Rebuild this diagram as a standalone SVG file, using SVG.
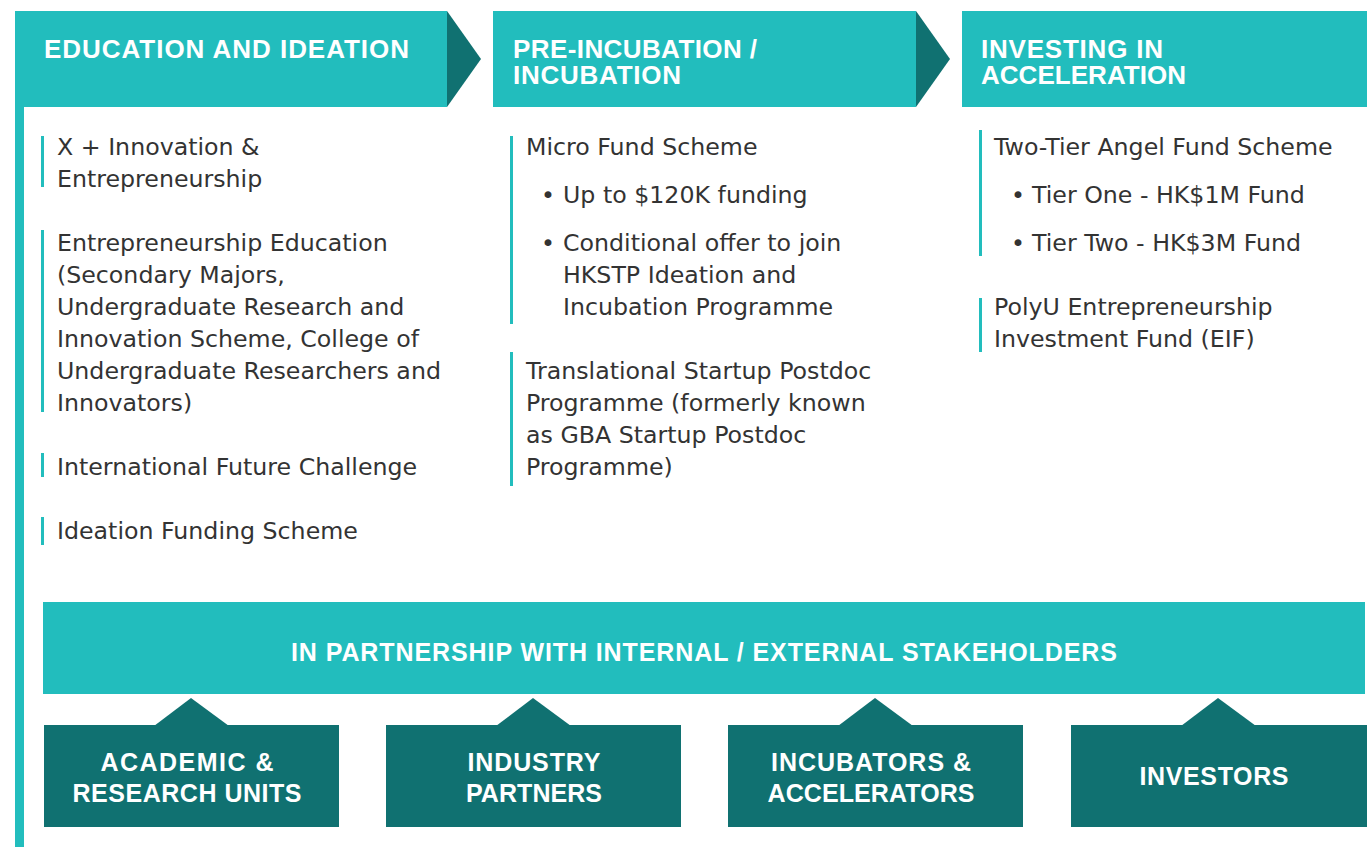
<svg xmlns="http://www.w3.org/2000/svg" width="1367" height="847" viewBox="0 0 1367 847">
  <style>
    .teal { fill: #22bdbd; }
    .dark { fill: #107171; }
    .hd { font-family: "Liberation Sans", Arial, sans-serif; font-weight: bold; font-size: 26px; fill: #ffffff; }
    .bx { font-family: "Liberation Sans", Arial, sans-serif; font-weight: bold; font-size: 25px; fill: #ffffff; text-anchor: middle; }
    .tx { font-family: "DejaVu Sans", "Liberation Sans", sans-serif; font-size: 23.7px; fill: #333333; }
    .bar { fill: #22bdbd; }
  </style>
  <rect width="1367" height="847" fill="#ffffff"/>

  <!-- left timeline strip -->
  <rect class="teal" x="15" y="11" width="9" height="836"/>

  <!-- stage 1 -->
  <g id="stage-education">
    <rect class="teal" x="15" y="11" width="432" height="96"/>
    <polygon class="dark" points="447,11 481,59 447,107"/>
    <text class="hd" x="44" y="58" textLength="365">EDUCATION AND IDEATION</text>
    <rect class="bar" x="41" y="136" width="3" height="51"/>
    <text class="tx" x="57" y="155">X + Innovation &amp;</text>
    <text class="tx" x="57" y="187">Entrepreneurship</text>
    <rect class="bar" x="41" y="230" width="3" height="182"/>
    <text class="tx" x="57" y="251">Entrepreneurship Education</text>
    <text class="tx" x="57" y="283">(Secondary Majors,</text>
    <text class="tx" x="57" y="315">Undergraduate Research and</text>
    <text class="tx" x="57" y="347">Innovation Scheme, College of</text>
    <text class="tx" x="57" y="379">Undergraduate Researchers and</text>
    <text class="tx" x="57" y="411">Innovators)</text>
    <rect class="bar" x="41" y="453" width="3" height="24"/>
    <text class="tx" x="57" y="475">International Future Challenge</text>
    <rect class="bar" x="41" y="517" width="3" height="28"/>
    <text class="tx" x="57" y="539">Ideation Funding Scheme</text>
  </g>

  <!-- stage 2 -->
  <g id="stage-incubation">
    <rect class="teal" x="493" y="11" width="423" height="96"/>
    <polygon class="dark" points="916,11 950,59 916,107"/>
    <text class="hd" x="513" y="58" textLength="244">PRE-INCUBATION /</text>
    <text class="hd" x="513" y="84" textLength="168">INCUBATION</text>
    <rect class="bar" x="510" y="136" width="3" height="188"/>
    <text class="tx" x="526" y="155">Micro Fund Scheme</text>
    <text class="tx" x="541" y="203">•</text>
    <text class="tx" x="563" y="203">Up to $120K funding</text>
    <text class="tx" x="541" y="251">•</text>
    <text class="tx" x="563" y="251">Conditional offer to join</text>
    <text class="tx" x="563" y="283">HKSTP Ideation and</text>
    <text class="tx" x="563" y="315">Incubation Programme</text>
    <rect class="bar" x="510" y="352" width="3" height="134"/>
    <text class="tx" x="526" y="379">Translational Startup Postdoc</text>
    <text class="tx" x="526" y="411">Programme (formerly known</text>
    <text class="tx" x="526" y="443">as GBA Startup Postdoc</text>
    <text class="tx" x="526" y="475">Programme)</text>
  </g>

  <!-- stage 3 -->
  <g id="stage-acceleration">
    <rect class="teal" x="962" y="11" width="405" height="96"/>
    <text class="hd" x="981" y="58" textLength="182">INVESTING IN</text>
    <text class="hd" x="981" y="84" textLength="205">ACCELERATION</text>
    <rect class="bar" x="979" y="130" width="3" height="126"/>
    <text class="tx" x="994" y="155">Two-Tier Angel Fund Scheme</text>
    <text class="tx" x="1011" y="203">•</text>
    <text class="tx" x="1032" y="203">Tier One - HK$1M Fund</text>
    <text class="tx" x="1011" y="251">•</text>
    <text class="tx" x="1032" y="251">Tier Two - HK$3M Fund</text>
    <rect class="bar" x="979" y="298" width="3" height="54"/>
    <text class="tx" x="994" y="315">PolyU Entrepreneurship</text>
    <text class="tx" x="994" y="347">Investment Fund (EIF)</text>
  </g>

  <!-- partnership band -->
  <g id="partnership">
    <rect class="teal" x="43" y="602" width="1322" height="92"/>
    <text class="bx" x="704" y="661" textLength="826">IN PARTNERSHIP WITH INTERNAL / EXTERNAL STAKEHOLDERS</text>
  </g>

  <g id="connectors">
    <polygon class="dark" points="154,726 191,698 229,726"/>
    <polygon class="dark" points="496,726 533,698 571,726"/>
    <polygon class="dark" points="838,726 875,698 913,726"/>
    <polygon class="dark" points="1181,726 1218,698 1256,726"/>
  </g>

  <g id="academic">
    <rect class="dark" x="44" y="725" width="295" height="102"/>
    <text class="bx" x="187" y="771" textLength="173">ACADEMIC &amp;</text>
    <text class="bx" x="187" y="802" textLength="229">RESEARCH UNITS</text>
  </g>
  <g id="industry">
    <rect class="dark" x="386" y="725" width="295" height="102"/>
    <text class="bx" x="534" y="771" textLength="133">INDUSTRY</text>
    <text class="bx" x="534" y="802" textLength="136">PARTNERS</text>
  </g>
  <g id="incubators">
    <rect class="dark" x="728" y="725" width="295" height="102"/>
    <text class="bx" x="871" y="771" textLength="200">INCUBATORS &amp;</text>
    <text class="bx" x="871" y="802" textLength="207">ACCELERATORS</text>
  </g>
  <g id="investors">
    <rect class="dark" x="1071" y="725" width="296" height="102"/>
    <text class="bx" x="1214" y="785" textLength="149">INVESTORS</text>
  </g>
</svg>
